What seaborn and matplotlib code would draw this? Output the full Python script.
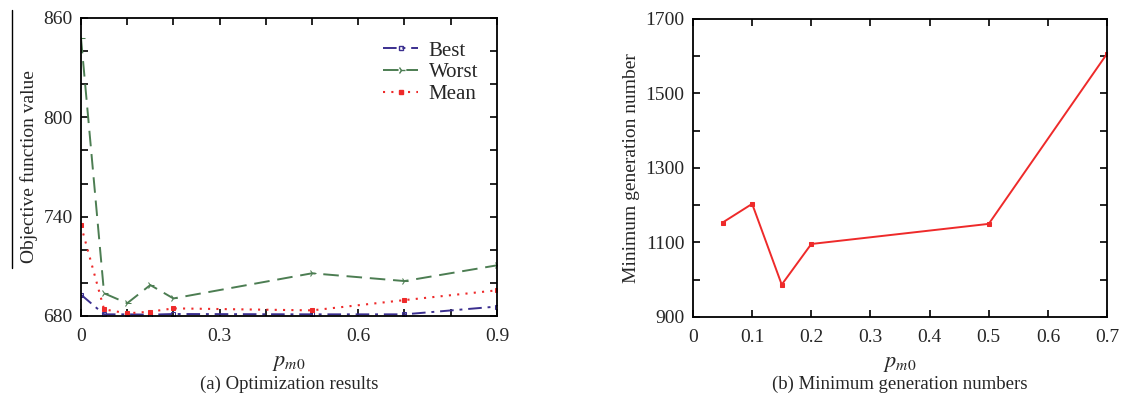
import matplotlib
matplotlib.use("Agg")
import matplotlib.pyplot as plt
from matplotlib.lines import Line2D
from matplotlib.ticker import MultipleLocator
import seaborn as sns

# data
pm0 = [0, 0.05, 0.1, 0.15, 0.2, 0.5, 0.7, 0.9]
best = [692.9, 681.0, 681.0, 680.8, 681.2, 681.0, 681.0, 685.7]
worst = [848.0, 693.7, 687.7, 698.7, 690.6, 705.8, 701.1, 710.6]
mean = [734.7, 684.0, 681.6, 682.6, 684.6, 683.4, 689.6, 695.5]

pm0_b = [0.05, 0.1, 0.15, 0.2, 0.5, 0.7]
min_gen = [1153.5, 1203.7, 986.9, 1096.0, 1150.0, 1606.8]

sns.set_theme(style="ticks")
plt.rcParams["font.family"] = ["Liberation Serif", "DejaVu Serif"]
plt.rcParams["mathtext.fontset"] = "stix"

fig = plt.figure(figsize=(11.23, 4.03), dpi=100)
ax1 = fig.add_axes([0.0721, 0.2159, 0.3704, 0.7395])
ax2 = fig.add_axes([0.6171, 0.2134, 0.3687, 0.7395])

c_best = "#3b2f8f"
c_worst = "#4c7d52"
c_red = "#ee2a2a"

sns.lineplot(x=pm0, y=best, ax=ax1, color=c_best, linestyle=(0, (7, 3, 1.5, 3)),
             linewidth=1.4, marker="s", markersize=3.5, markerfacecolor="none",
             markeredgecolor=c_best, label="Best")
sns.lineplot(x=pm0, y=worst, ax=ax1, color=c_worst, linestyle=(0, (8, 4)),
             linewidth=1.4, marker="4", markersize=6, markeredgecolor=c_worst,
             label="Worst")
sns.lineplot(x=pm0, y=mean, ax=ax1, color=c_red, linestyle=(0, (1, 3)),
             linewidth=1.5, marker="s", markersize=3, markeredgecolor=c_red,
             label="Mean")

sns.lineplot(x=pm0_b, y=min_gen, ax=ax2, color=c_red, linewidth=1.4,
             marker="s", markersize=3.5, markeredgecolor=c_red)

ax1.set_xlim(0, 0.9)
ax1.set_ylim(680, 860)
ax1.set_xticks([0, 0.3, 0.6, 0.9])
ax1.set_xticklabels(["0", "0.3", "0.6", "0.9"])
ax1.xaxis.set_minor_locator(MultipleLocator(0.1))
ax1.set_yticks([680, 740, 800, 860])
ax1.yaxis.set_minor_locator(MultipleLocator(20))

ax2.set_xlim(0, 0.7)
ax2.set_ylim(900, 1700)
ax2.set_xticks([0, 0.1, 0.2, 0.3, 0.4, 0.5, 0.6, 0.7])
ax2.set_xticklabels(["0", "0.1", "0.2", "0.3", "0.4", "0.5", "0.6", "0.7"])
ax2.set_yticks([900, 1100, 1300, 1500, 1700])
ax2.yaxis.set_minor_locator(MultipleLocator(100))

for ax in (ax1, ax2):
    for s in ax.spines.values():
        s.set_visible(True)
        s.set_linewidth(1.3)
        s.set_color("black")
    ax.tick_params(which="both", direction="in", top=True, right=True,
                   labelsize=14, width=1.2, color="black", pad=6)
    ax.tick_params(axis="x", which="both", pad=9)
    ax.tick_params(which="major", length=5)
    ax.tick_params(which="minor", length=5)
    ax.set_xlabel(r"$p_{m0}$", fontsize=16, labelpad=6)

ax1.set_ylabel("Objective function value", fontsize=14, labelpad=4)
ax2.set_ylabel("Minimum generation number", fontsize=14, labelpad=4)

handles = [
    Line2D([], [], color=c_best, linestyle=(0, (7, 3, 1.5, 3)), linewidth=1.4,
           marker="s", markersize=3.5, markerfacecolor="none"),
    Line2D([], [], color=c_worst, linestyle=(0, (8, 4)), linewidth=1.4,
           marker="4", markersize=6),
    Line2D([], [], color=c_red, linestyle=(0, (1, 3)), linewidth=1.5,
           marker="s", markersize=3),
]
ax1.legend(handles, ["Best", "Worst", "Mean"], loc="upper right",
           bbox_to_anchor=(1.0, 0.985), frameon=False, fontsize=15,
           handlelength=1.7, labelspacing=0.1, handletextpad=0.5)

fig.text(0.2573, 0.035, "(a) Optimization results", ha="center", fontsize=13.5)
fig.text(0.8015, 0.035, "(b) Minimum generation numbers", ha="center", fontsize=13.5)

# stray scan line beside the left y label
fig.add_artist(Line2D([0.0107, 0.0107], [1 - 10 / 403, 1 - 268 / 403],
                      transform=fig.transFigure, color="black", linewidth=1.0))

fig.savefig("out.png", dpi=100)
